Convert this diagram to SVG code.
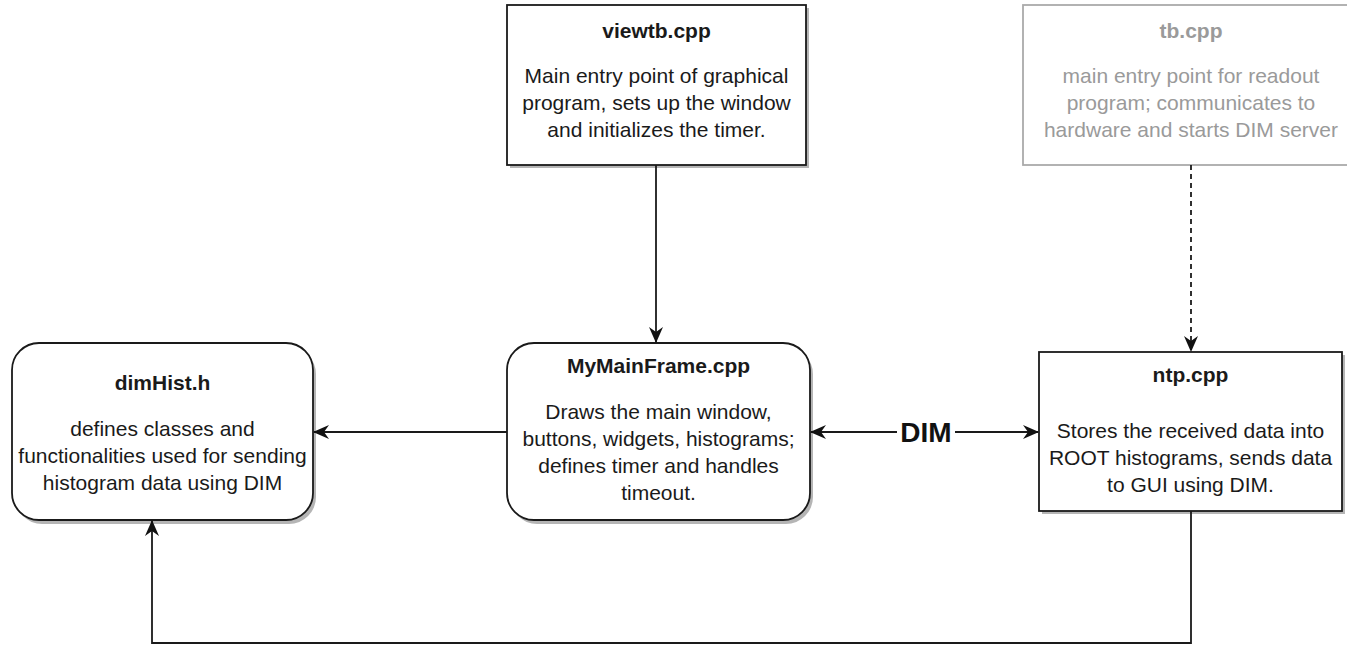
<svg xmlns="http://www.w3.org/2000/svg" width="1347" height="645" viewBox="0 0 1347 645">
<style>
.box{fill:#fff;stroke:#1a1a1a;stroke-width:1.8}
.gbox{fill:#fff;stroke:#aaa;stroke-width:1.8}
.sh{fill:#b5b5b5}
.t{font-family:"Liberation Sans",Arial,sans-serif;font-size:21px;font-weight:bold;fill:#1a1a1a;text-anchor:middle}
.b{font-family:"Liberation Sans",Arial,sans-serif;font-size:21px;fill:#1a1a1a;text-anchor:middle}
.g{fill:#9a9a9a}
.ln{fill:none;stroke:#1a1a1a;stroke-width:1.8}
.dlabel{font-family:"Liberation Sans",Arial,sans-serif;font-size:28px;font-weight:bold;fill:#111;text-anchor:middle}
</style>
<defs>
<marker id="arr" viewBox="0 0 16 14" refX="15" refY="7" markerWidth="16" markerHeight="14" markerUnits="userSpaceOnUse" orient="auto-start-reverse">
<path d="M0,0 L16,7 L0,14 L5,7 Z" fill="#111"/>
</marker>
</defs>
<rect width="1347" height="645" fill="#fff"/>
<g id="viewtb">
<rect class="sh" x="510" y="8" width="299" height="160"/>
<rect class="box" x="507" y="5" width="299" height="160"/>
<text class="t" x="656.5" y="38">viewtb.cpp</text>
<text class="b" x="656.5" y="83">Main entry point of graphical</text>
<text class="b" x="656.5" y="110">program, sets up the window</text>
<text class="b" x="656.5" y="137">and initializes the timer.</text>
</g>
<g id="tb">
<rect class="gbox" x="1023" y="5" width="336" height="160"/>
<text class="t g" x="1191" y="38">tb.cpp</text>
<text class="b g" x="1191" y="83">main entry point for readout</text>
<text class="b g" x="1191" y="110">program; communicates to</text>
<text class="b g" x="1191" y="137">hardware and starts DIM server</text>
</g>
<g id="dimHist">
<rect class="sh" x="15" y="347" width="301" height="177" rx="27"/>
<rect class="box" x="12" y="343" width="301" height="177" rx="27"/>
<text class="t" x="162.5" y="390">dimHist.h</text>
<text class="b" x="162.5" y="436">defines classes and</text>
<text class="b" x="162.5" y="463">functionalities used for sending</text>
<text class="b" x="162.5" y="490">histogram data using DIM</text>
</g>
<g id="MyMainFrame">
<rect class="sh" x="510" y="347" width="303" height="177" rx="27"/>
<rect class="box" x="507" y="343" width="303" height="177" rx="27"/>
<text class="t" x="658.5" y="373">MyMainFrame.cpp</text>
<text class="b" x="658.5" y="419">Draws the main window,</text>
<text class="b" x="658.5" y="446">buttons, widgets, histograms;</text>
<text class="b" x="658.5" y="473">defines timer and handles</text>
<text class="b" x="658.5" y="500">timeout.</text>
</g>
<g id="ntp">
<rect class="sh" x="1042" y="355" width="303" height="159"/>
<rect class="box" x="1039" y="352" width="303" height="159"/>
<text class="t" x="1190.5" y="382">ntp.cpp</text>
<text class="b" x="1190.5" y="438">Stores the received data into</text>
<text class="b" x="1190.5" y="465">ROOT histograms, sends data</text>
<text class="b" x="1190.5" y="492">to GUI using DIM.</text>
</g>
<g id="connectors">
<line class="ln" x1="656" y1="165" x2="656" y2="342" marker-end="url(#arr)"/>
<line class="ln" x1="1191" y1="165" x2="1191" y2="351" stroke-dasharray="5,4" marker-end="url(#arr)"/>
<line class="ln" x1="507" y1="432" x2="314" y2="432" marker-end="url(#arr)"/>
<line class="ln" x1="811" y1="432" x2="1038" y2="432" marker-start="url(#arr)" marker-end="url(#arr)"/>
<rect x="897" y="417" width="58" height="30" fill="#fff"/>
<text class="dlabel" x="926" y="442">DIM</text>
<polyline class="ln" points="1191,511 1191,643 152,643 152,521" marker-end="url(#arr)"/>
</g>
</svg>
